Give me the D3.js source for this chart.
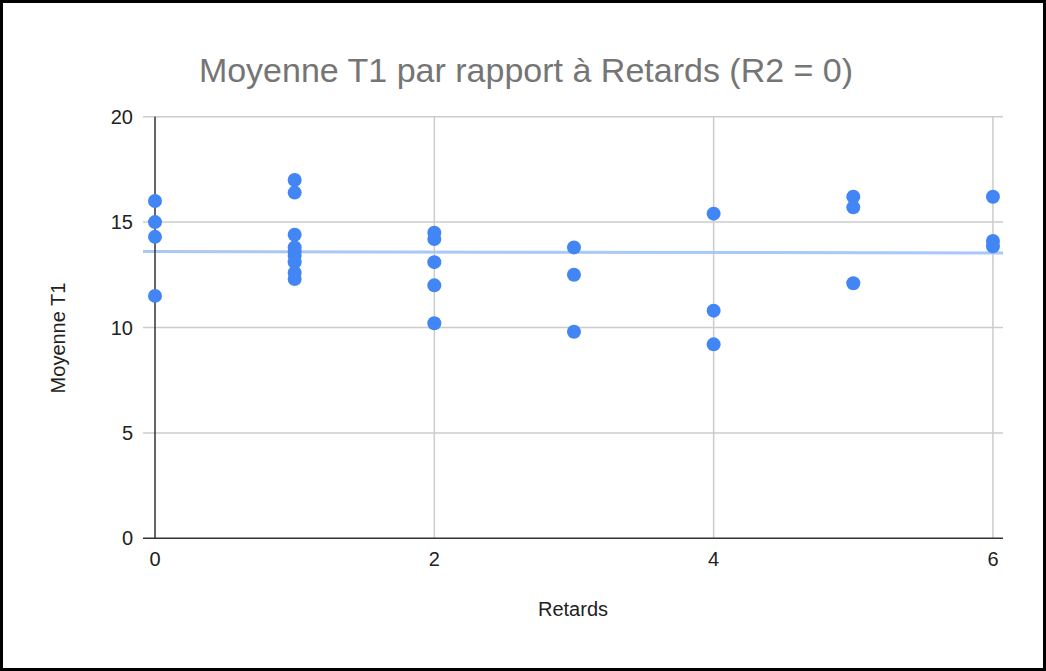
<!DOCTYPE html>
<html>
<head>
<meta charset="utf-8">
<script src="https://cdn.jsdelivr.net/npm/d3@7"></script>
<style>
  body { margin: 0; background: #fff; }
  svg { display: block; font-family: "Liberation Sans", Arial, sans-serif; }
</style>
</head>
<body>
<svg></svg>
<script>
var width = 1046;
var height = 671;

// values
var retards = [0, 0, 0, 0,
               1, 1, 1, 1, 1, 1, 1, 1, 1,
               2, 2, 2, 2, 2,
               3, 3, 3,
               4, 4, 4,
               5, 5, 5,
               6, 6, 6];
var moyenneT1 = [16, 15, 14.3, 11.5,
                 17, 16.4, 14.4, 13.8, 13.6, 13.4, 13.1, 12.6, 12.3,
                 14.5, 14.2, 13.1, 12, 10.2,
                 13.8, 12.5, 9.8,
                 15.4, 10.8, 9.2,
                 16.2, 15.7, 12.1,
                 16.2, 14.1, 13.85];
var yTicks = [0, 5, 10, 15, 20];
var xTicks = [0, 2, 4, 6];
var trendEnds = [13.6, 13.54]; // trendline value at left and right edge

var data = retards.map((r, i) => ({x: r, y: moyenneT1[i]}));

var svg = d3.select("svg")
    .attr("width", width)
    .attr("height", height);

svg.append("rect")
    .attr("x", 1.5).attr("y", 1.5)
    .attr("width", width - 3).attr("height", height - 3)
    .attr("fill", "#fff")
    .attr("stroke", "#000")
    .attr("stroke-width", 3);

var left = 143, right = 1003;
var xScale = d3.scaleLinear()
    .domain([-0.086, 6.072])
    .range([left, right]);

var yScale = d3.scaleLinear()
    .domain([0, 20])
    .range([538.3, 116.7]);

// grid
svg.append("g")
    .selectAll("line.h")
    .data(yTicks.filter(d => d !== 0))
    .enter().append("line")
    .attr("x1", left).attr("x2", right)
    .attr("y1", d => yScale(d)).attr("y2", d => yScale(d))
    .attr("stroke", "#cccccc").attr("stroke-width", 1.5);

svg.append("g")
    .selectAll("line.v")
    .data(xTicks.filter(d => d !== 0))
    .enter().append("line")
    .attr("x1", d => xScale(d)).attr("x2", d => xScale(d))
    .attr("y1", yScale(20)).attr("y2", yScale(0))
    .attr("stroke", "#cccccc").attr("stroke-width", 1.5);

// trendline
svg.append("line")
    .attr("x1", left).attr("x2", right)
    .attr("y1", yScale(trendEnds[0])).attr("y2", yScale(trendEnds[1]))
    .attr("stroke", "#a9c8f7")
    .attr("stroke-width", 3);

// zero axes
svg.append("line")
    .attr("x1", xScale(0)).attr("x2", xScale(0))
    .attr("y1", yScale(20)).attr("y2", yScale(0))
    .attr("stroke", "#333").attr("stroke-width", 1.5);
svg.append("line")
    .attr("x1", left).attr("x2", right)
    .attr("y1", yScale(0)).attr("y2", yScale(0))
    .attr("stroke", "#333").attr("stroke-width", 1.5);

// points
svg.append("g")
    .selectAll("circle")
    .data(data)
    .enter().append("circle")
    .attr("cx", d => xScale(d.x))
    .attr("cy", d => yScale(d.y))
    .attr("r", 7)
    .attr("fill", "#4285f4");

// tick labels
svg.append("g")
    .selectAll("text")
    .data(yTicks)
    .enter().append("text")
    .attr("x", 133)
    .attr("y", d => yScale(d))
    .attr("dy", "0.35em")
    .attr("text-anchor", "end")
    .attr("font-size", 20)
    .attr("fill", "#222")
    .text(d => d);

svg.append("g")
    .selectAll("text")
    .data(xTicks)
    .enter().append("text")
    .attr("x", d => xScale(d))
    .attr("y", 566)
    .attr("text-anchor", "middle")
    .attr("font-size", 20)
    .attr("fill", "#222")
    .text(d => d);

// titles
svg.append("text")
    .attr("x", 526)
    .attr("y", 82)
    .attr("text-anchor", "middle")
    .attr("font-size", 34)
    .attr("fill", "#757575")
    .text("Moyenne T1 par rapport à Retards (R2 = 0)");

svg.append("text")
    .attr("x", 573)
    .attr("y", 616)
    .attr("text-anchor", "middle")
    .attr("font-size", 20)
    .attr("fill", "#222")
    .text("Retards");

svg.append("text")
    .attr("transform", "rotate(-90)")
    .attr("x", -338)
    .attr("y", 65)
    .attr("text-anchor", "middle")
    .attr("font-size", 20)
    .attr("fill", "#222")
    .text("Moyenne T1");
</script>
</body>
</html>
